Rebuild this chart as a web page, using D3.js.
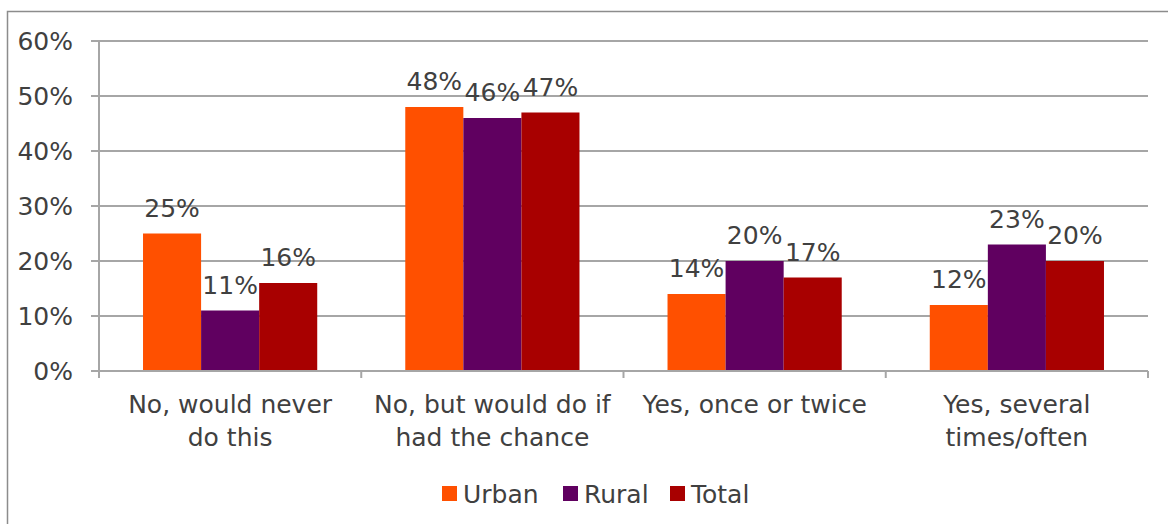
<!DOCTYPE html>
<html><head><meta charset="utf-8">
<script src="https://cdn.jsdelivr.net/npm/d3@7"></script>
<style>body{margin:0;background:#fff}svg{display:block}text{font-family:"DejaVu Sans",sans-serif;fill:#404040}</style>
</head><body><svg id="c" width="1168" height="524"></svg>
<script>
const categories = ["No, would never\ndo this", "No, but would do if\nhad the chance", "Yes, once or twice", "Yes, several\ntimes/often"];
const seriesNames = ["Urban", "Rural", "Total"];
const urban = [25, 48, 14, 12];
const rural = [11, 46, 20, 23];
const total = [16, 47, 17, 20];
const yTicks = [0, 10, 20, 30, 40, 50, 60];
const colors = ["#FF5000", "#600060", "#A80000"];

const series = [urban, rural, total];
const svg = d3.select("#c");
const mLeft = 99, mRight = 1148, mTop = 41, mBottom = 371;
const fs = 25;

svg.append("rect").attr("x", 7.5).attr("y", 11.5).attr("width", 1200).attr("height", 600)
  .attr("fill", "none").attr("stroke", "#8c8c8c").attr("stroke-width", 1.5);

const x0 = d3.scaleBand().domain(d3.range(categories.length)).range([mLeft, mRight]).paddingInner(0).paddingOuter(0);
const x1 = d3.scaleBand().domain(d3.range(series.length)).range([0, x0.bandwidth()]).paddingOuter(0.758).paddingInner(0);
const y = d3.scaleLinear().domain([0, 60]).range([mBottom, mTop]);

// gridlines
svg.append("g").selectAll("line").data(yTicks).join("line")
  .attr("x1", mLeft - 8).attr("x2", mRight).attr("y1", d => y(d)).attr("y2", d => y(d))
  .attr("stroke", "#a6a6a6").attr("stroke-width", 2);

// y labels
svg.append("g").selectAll("text").data(yTicks).join("text")
  .attr("x", 73).attr("y", d => y(d)).attr("dy", "0.36em").attr("text-anchor", "end")
  .attr("font-size", fs).text(d => d + "%");

// y axis line
svg.append("line").attr("x1", mLeft).attr("x2", mLeft).attr("y1", mTop).attr("y2", mBottom + 7)
  .attr("stroke", "#a6a6a6").attr("stroke-width", 2);

// bars
const groups = svg.append("g").selectAll("g").data(series).join("g").attr("fill", (d, i) => colors[i]);
groups.each(function(vals, si) {
  d3.select(this).selectAll("rect").data(vals).join("rect")
    .attr("x", (v, ci) => x0(ci) + x1(si)).attr("width", x1.bandwidth())
    .attr("y", v => y(v)).attr("height", v => mBottom - y(v));
});

// x axis
svg.append("line").attr("x1", mLeft).attr("x2", mRight).attr("y1", mBottom).attr("y2", mBottom)
  .attr("stroke", "#a6a6a6").attr("stroke-width", 2);
svg.append("g").selectAll("line").data(d3.range(categories.length + 1)).join("line")
  .attr("x1", i => mLeft + i * x0.step()).attr("x2", i => mLeft + i * x0.step())
  .attr("y1", mBottom).attr("y2", mBottom + 7).attr("stroke", "#a6a6a6").attr("stroke-width", 2);

// value labels
series.forEach((vals, si) => {
  svg.append("g").selectAll("text").data(vals).join("text")
    .attr("x", (v, ci) => x0(ci) + x1(si) + x1.bandwidth() / 2)
    .attr("y", v => y(v) - 17).attr("text-anchor", "middle").attr("font-size", fs)
    .text(v => v + "%");
});

// category labels
const cl = svg.append("g").selectAll("text").data(categories).join("text")
  .attr("text-anchor", "middle").attr("font-size", fs);
cl.each(function(c, i) {
  const t = d3.select(this);
  c.split("\n").forEach((line, li) => {
    t.append("tspan").attr("x", x0(i) + x0.bandwidth() / 2).attr("y", 413 + li * 33).text(line);
  });
});

// legend
const legX = [442, 563, 670];
const lg = svg.append("g").selectAll("g").data(seriesNames).join("g")
  .attr("transform", (d, i) => `translate(${legX[i]},486)`);
lg.append("rect").attr("width", 15).attr("height", 15).attr("fill", (d, i) => colors[i]);
lg.append("text").attr("x", 21).attr("y", 17).attr("font-size", fs).text(d => d);
</script></body></html>
